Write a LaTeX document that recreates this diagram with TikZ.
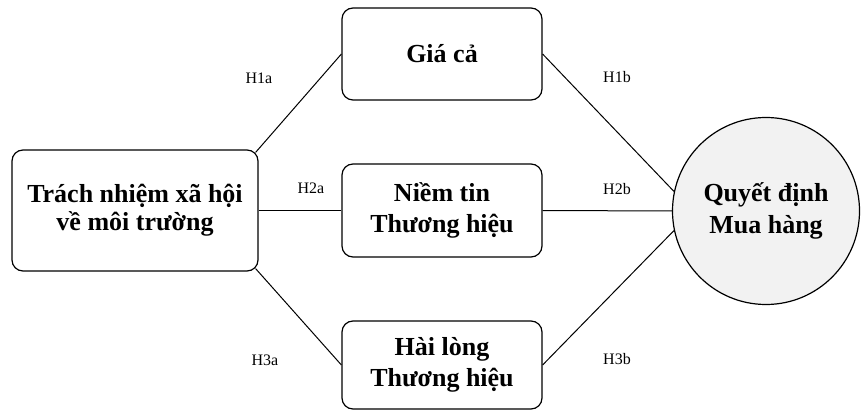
\documentclass[tikz,border=0pt]{standalone}
\usepackage{fontspec}
\setmainfont{Liberation Serif}
\begin{document}
\begin{tikzpicture}[x=1pt,y=-1pt,
  box/.style={draw, line width=1.2pt, rounded corners=11pt, align=center,
    font=\bfseries\fontsize{26}{31}\selectfont, inner sep=0pt},
  target/.style={draw, line width=1.2pt, circle, fill=gray!10, align=center,
    font=\bfseries\fontsize{26}{32}\selectfont, inner sep=0pt, minimum size=187pt},
  link/.style={line width=1pt},
  lab/.style={font=\fontsize{16}{18}\selectfont, inner sep=0pt}]
\useasboundingbox (0,0) rectangle (861,411);
\node[box, minimum width=246pt, minimum height=121pt, font=\bfseries\fontsize{26}{28}\selectfont] (trach) at (135,210.5) {Trách nhiệm xã hội\\về môi trường};
\node[box, minimum width=200pt, minimum height=92pt] (gia) at (442,54) {Giá cả};
\node[box, minimum width=200pt, minimum height=93pt] (niem) at (442,210.5) {Niềm tin\\Thương hiệu};
\node[box, minimum width=200pt, minimum height=88pt] (hai) at (442,365) {Hài lòng\\Thương hiệu};
\node[target] (quyet) at (766,211) {Quyết định\\Mua hàng};
\draw[link] ([xshift=-3pt,yshift=-3pt]trach.north east) -- (gia.west);
\draw[link] (trach.east) -- (niem.west);
\draw[link] ([xshift=-3pt,yshift=3pt]trach.south east) -- (hai.west);
\draw[link] (gia.east) -- (quyet.168);
\draw[link] (niem.east) -- (quyet.west);
\draw[link] (hai.east) -- (quyet.192);
\node[lab] (h1a) at (259,78) {H1a};
\node[lab] (h2a) at (311,188) {H2a};
\node[lab] (h3a) at (265,360) {H3a};
\node[lab] (h1b) at (617,77) {H1b};
\node[lab] (h2b) at (617,189) {H2b};
\node[lab] (h3b) at (617,359) {H3b};
\end{tikzpicture}
\end{document}
